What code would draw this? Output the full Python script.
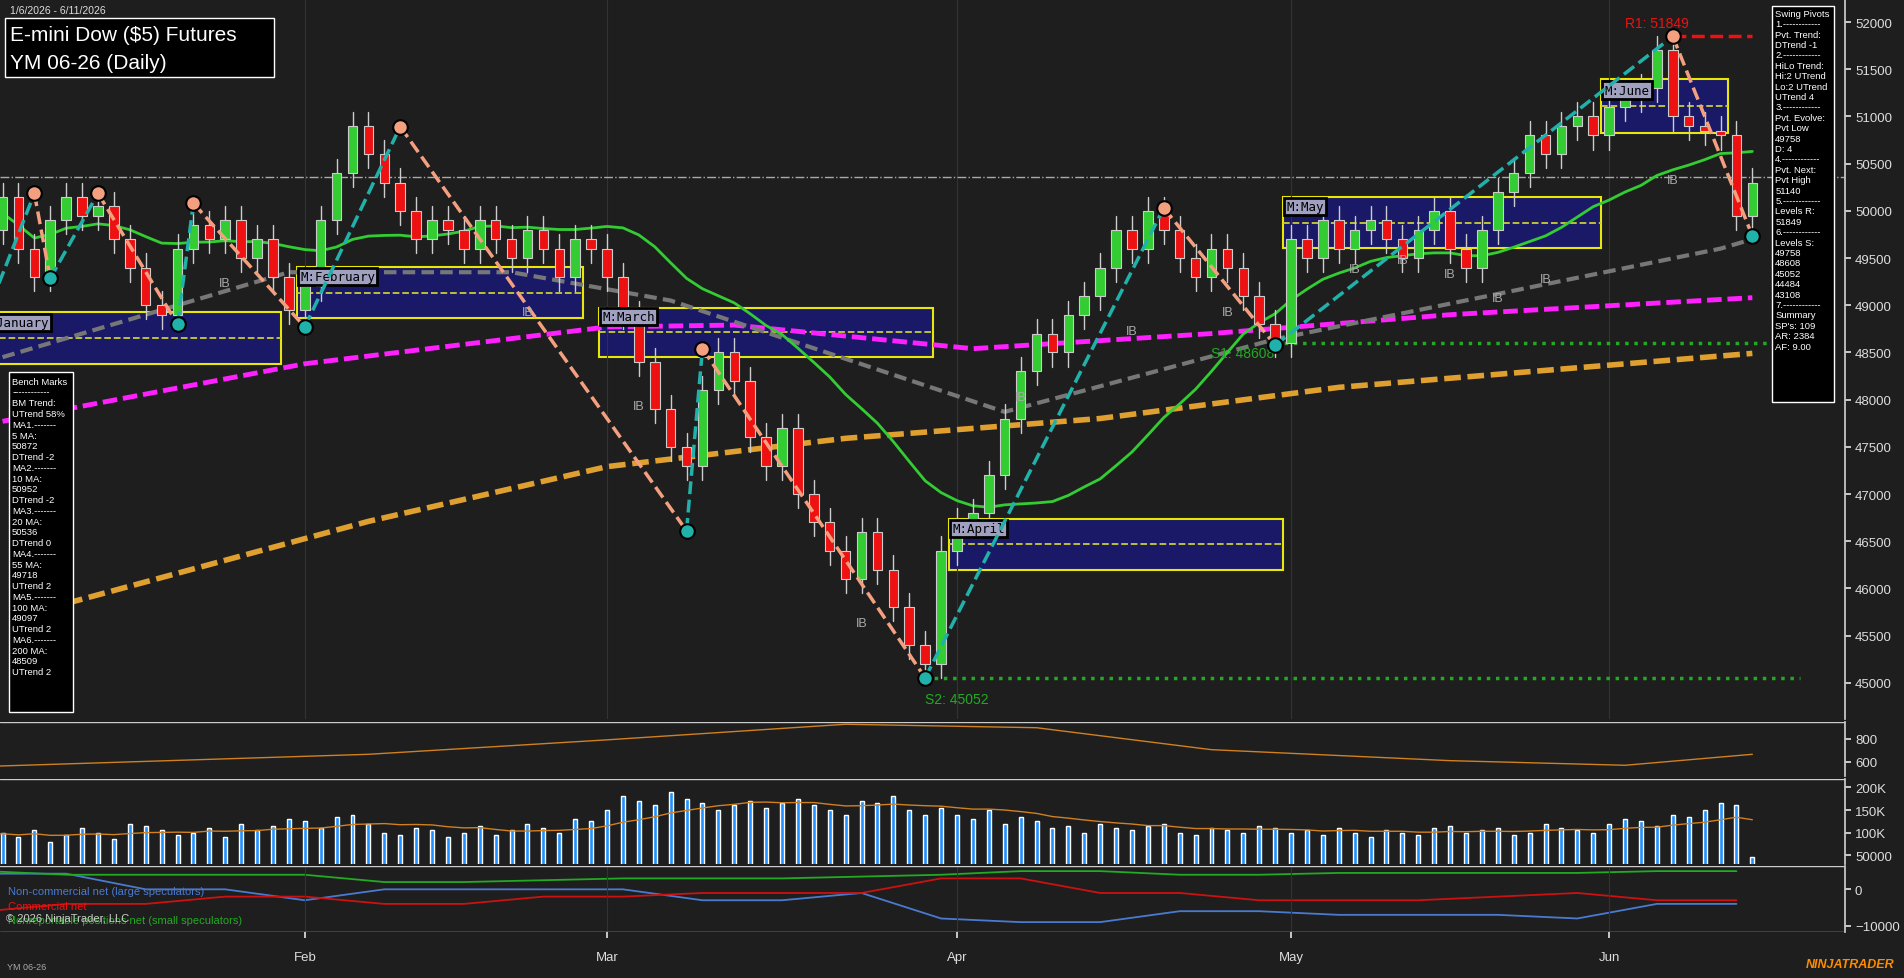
import numpy as np, pandas as pd, matplotlib
matplotlib.use("Agg")
import matplotlib.pyplot as plt, seaborn as sns
from matplotlib.patches import Rectangle

sns.set_theme(style="dark")
plt.rcParams['font.family'] = ['Liberation Sans', 'DejaVu Sans']

month_names = ["Feb", "Mar", "Apr", "May", "Jun"]
closes_jan = [49800,50150,49600,49300,49900,50150,49950,50050,49700,49400,49000,48900,49600,49850,49700,49900,49500,49700,49300,48950]
closes_feb = [49200,49900,50400,50900,50600,50300,50000,49700,49900,49800,49600,49900,49700,49500,49800,49600,49300,49700,49600]
closes_mar = [49300,48900,48400,47900,47500,47300,48100,48500,48200,47600,47300,47700,47000,46700,46400,46100,46600,46200,45800,45400,45200,46400]
closes_apr = [46700,46800,47200,47800,48300,48700,48500,48900,49100,49400,49800,49600,50000,49800,49500,49300,49600,49400,49100,48800,48600]
closes_may = [49700,49500,49900,49600,49800,49900,49700,49500,49800,50000,49600,49400,49800,50200,50400,50800,50600,50900,51000,50800]
closes_jun = [51100,51200,51300,51700,51000,50900,50850,50800,49950,50300]
vol_jan = [95,100,90,105,80,95,110,100,85,120,115,105,95,100,110,90,120,105,115,130]
vol_feb = [125,110,135,140,120,100,95,110,105,90,100,115,95,105,120,110,100,130,125]
vol_mar = [150,180,170,160,190,175,165,150,160,170,155,165,175,160,150,140,170,165,180,150,140,155]
vol_apr = [140,130,150,120,135,125,110,115,100,120,110,105,115,120,100,95,110,105,100,115,110]
vol_may = [100,105,95,110,100,90,105,100,95,110,115,100,105,110,95,100,120,110,105,100]
vol_jun = [120,130,125,115,140,135,150,165,160,45]
ma55_idx = [1, 19, 33, 43, 64, 81, 109, 111]
ma55_val = [48450, 49350, 49350, 49050, 47870, 48640, 49600, 49700]
ma100_idx = [1, 20, 39, 47, 62, 77, 92, 111]
ma100_val = [47770, 48380, 48770, 48790, 48540, 48700, 48900, 49080]
ma200_idx = [5, 24, 39, 54, 70, 85, 111]
ma200_val = [45840, 46710, 47290, 47590, 47800, 48130, 48490]
atr_idx = [0, 24, 39, 54, 66, 77, 92, 103, 111]
atr_val = [560, 665, 790, 925, 895, 705, 610, 570, 665]
cot_blue = [4300,4300,0,0,-3000,0,0,0,0,-3000,-3000,-1000,-8000,-9000,-9000,-6000,-6000,-7000,-7000,-7000,-8000,-4000,-4000]
cot_red = [-6000,-4000,-4000,-2000,-2000,-4000,-4000,-2000,-2000,-1000,-1000,-1000,3000,3000,-1000,-1000,-3000,-3000,-3000,-2000,-1000,-3000,-3000]
cot_green = [5000,4000,4000,4000,4000,2000,2000,2500,3000,3000,3000,3500,4000,5000,5000,4000,4000,4500,4500,4500,4500,5000,5000]
pivot_idx = [0, 3, 4, 7, 12, 13, 20, 26, 44, 45, 59, 74, 81, 106, 111]
pivot_val = [48900, 50185, 49285, 50185, 48800, 50080, 48770, 50893, 46610, 48540, 45052, 50030, 48577, 51849, 49735]
months = ["M:January", "M:February", "M:March", "M:April", "M:May", "M:June"]
box_lo = [48380, 48860, 48450, 46195, 49606, 50830]
box_hi = [48925, 49410, 48975, 46735, 50147, 51395]
box_start = [0, 20, 39, 61, 82, 102]
box_end = [18, 37, 59, 81, 101, 109]
ib_idx = [15, 34, 41, 55, 65, 72, 78, 86, 89, 92, 95, 98, 106]
ib_val = [49200, 48900, 47900, 45600, 48000, 48700, 48900, 49350, 49450, 49300, 49050, 49250, 50300]

closes = closes_jan + closes_feb + closes_mar + closes_apr + closes_may + closes_jun
vols = np.array(vol_jan + vol_feb + vol_mar + vol_apr + vol_may + vol_jun) * 1000
n = len(closes)
idx = np.arange(n)
opens = [closes[0] - 200] + closes[:-1]
df = pd.DataFrame({"i": idx, "o": opens, "c": closes, "v": vols})
df["ma20"] = df["c"].rolling(20, min_periods=1).mean()
month_start = [20, 39, 61, 82, 102]

W, H = 1568, 806
BG = "#1e1e1e"
XR = 1519
fig = plt.figure(figsize=(19.04, 9.79), dpi=100, facecolor=BG)
def ax_at(x0, y0, x1, y1):
    a = fig.add_axes([x0/W, 1-y1/H, (x1-x0)/W, (y1-y0)/H], facecolor=BG)
    a.set_xlim(0.84, (XR + 11) / 13.1)
    for s in a.spines.values(): s.set_visible(False)
    a.spines["right"].set_visible(True); a.spines["right"].set_color("#cccccc")
    a.yaxis.tick_right()
    a.tick_params(colors="#dddddd", labelsize=9.5, length=4, direction="out", right=True, left=False, bottom=False, labelbottom=False)
    a.grid(False)
    return a

ax = ax_at(0, 0, XR, 593)
ax.set_ylim(44613, 52245)
ax.set_yticks(range(45000, 52001, 500))
for m in month_start: ax.axvline(m, color="#333333", lw=0.8)
ax.axhline(50360, color="#aaaaaa", lw=1, ls="-.")
for nm, lo, hi, s, e in zip(months, box_lo, box_hi, box_start, box_end):
    ax.add_patch(Rectangle((s-0.5, lo), e-s+1, hi-lo, facecolor="#191970", edgecolor="yellow", lw=1.5, alpha=0.9, zorder=1))
    ax.plot([s-0.5, e+0.5], [(lo+hi)/2]*2, color="#cccc33", ls="--", lw=1.3, zorder=1)
    ax.text(s-0.3, (lo+hi)/2+130, nm, fontsize=9, family="DejaVu Sans Mono", color="black", zorder=6,
            bbox=dict(facecolor="#a0a0c0", edgecolor="black", pad=1.5, lw=2))
ax.plot(ma200_idx, ma200_val, color="#e0a030", lw=4, ls=(0, (3, 1.2)), zorder=2)
ax.plot(ma100_idx, ma100_val, color="#ff20ff", lw=3.5, ls=(0, (3, 1.2)), zorder=2)
ax.plot(ma55_idx, ma55_val, color="#777777", lw=3, ls=(0, (3, 1.5)), zorder=2)
sns.lineplot(data=df, x="i", y="ma20", ax=ax, color="#33cc33", lw=2, zorder=3)
ax.set_xlabel(""); ax.set_ylabel("")
for o, c, i in zip(opens, closes, idx):
    col = "#33cc33" if c >= o else "#ee1111"
    lo, hi = min(o, c), max(o, c)
    ax.plot([i, i], [lo-150, hi+150], color="#cccccc", lw=1, zorder=4)
    ax.add_patch(Rectangle((i-0.3, lo), 0.6, max(hi-lo, 25), facecolor=col, edgecolor="#cccccc", lw=0.8, zorder=5))
for k in range(len(pivot_idx)-1):
    up = pivot_val[k+1] > pivot_val[k]
    ax.plot(pivot_idx[k:k+2], pivot_val[k:k+2], color="#20b2aa" if up else "#f4a080", lw=2.5, ls="--", zorder=6)
for k in range(1, len(pivot_idx)):
    hi = pivot_val[k] > pivot_val[k-1]
    ax.scatter(pivot_idx[k], pivot_val[k], s=110, color="#f4a080" if hi else "#20b2aa", edgecolor="black", lw=1.5, zorder=7)
for i, v in zip(ib_idx, ib_val):
    ax.text(i, v, "IB", color="#aaaaaa", fontsize=9, ha="center", zorder=6)
ax.plot([59, 114], [45052]*2, color="#22aa22", ls=":", lw=2.5)
ax.plot([81, 114], [48600]*2, color="#22aa22", ls=":", lw=2.5)
ax.plot([106, 111], [51849]*2, color="#ee1111", ls="--", lw=2.5)
ax.text(59, 44900, "S2: 45052", color="#22aa22", fontsize=10, va="top")
ax.text(77, 48450, "S1: 48608", color="#22aa22", fontsize=10)
ax.text(103, 51950, "R1: 51849", color="#ee1111", fontsize=10)

fig.text(8/W, 1-9/H, "1/6/2026 - 6/11/2026", color="#dddddd", fontsize=7.5, va="center")
fig.patches.append(Rectangle((4/W, 1-64/H), 222/W, 48/H, transform=fig.transFigure, facecolor="black", zorder=0))
fig.text(8/W, 1-29/H, "E-mini Dow ($5) Futures", color="white", fontsize=15, va="center", zorder=5)
fig.text(8/W, 1-52/H, "YM 06-26 (Daily)", color="white", fontsize=15, va="center", zorder=5)
bm = "Bench Marks\n------------\nBM Trend:\nUTrend 58%\nMA1.-------\n5 MA:\n50872\nDTrend -2\nMA2.-------\n10 MA:\n50952\nDTrend -2\nMA3.-------\n20 MA:\n50536\nDTrend 0\nMA4.-------\n55 MA:\n49718\nUTrend 2\nMA5.-------\n100 MA:\n49097\nUTrend 2\nMA6.-------\n200 MA:\n48509\nUTrend 2"
fig.patches.append(Rectangle((7/W, 1-587/H), 53/W, 280/H, transform=fig.transFigure, facecolor="black", zorder=4))
fig.text(10/W, 1-311/H, bm, color="white", fontsize=6.8, va="top", linespacing=1.25, zorder=5)
sp = "Swing Pivots\n1.------------\nPvt. Trend:\nDTrend -1\n2.------------\nHiLo Trend:\nHi:2 UTrend\nLo:2 UTrend\nUTrend 4\n3.------------\nPvt. Evolve:\nPvt Low\n49758\nD: 4\n4.------------\nPvt. Next:\nPvt High\n51140\n5.------------\nLevels R:\n51849\n6.------------\nLevels S:\n49758\n48608\n45052\n44484\n43108\n7.------------\nSummary\nSP's: 109\nAR: 2384\nAF: 9.00"
fig.patches.append(Rectangle((1459/W, 1-332/H), 51/W, 326/H, transform=fig.transFigure, facecolor="black", zorder=4))
fig.text(1462/W, 1-8/H, sp, color="white", fontsize=6.8, va="top", linespacing=1.2, zorder=5)

a2 = ax_at(0, 595, XR, 640)
a2.set_ylim(474, 947); a2.set_yticks([600, 800])
a2.plot(atr_idx, atr_val, color="#d08020", lw=1)
a3 = ax_at(0, 642, XR, 712)
a3.set_ylim(31000, 219000); a3.set_yticks([50000, 100000, 150000, 200000])
a3.set_yticklabels(["50000", "100K", "150K", "200K"])
a3.bar(idx, vols, width=0.25, color="#1e90ff")
a3.plot(idx, pd.Series(vols).rolling(10, min_periods=1).mean(), color="#d08020", lw=1)
a4 = ax_at(0, 714, XR, 768)
a4.set_ylim(-11666, 6333); a4.set_yticks([-10000, 0])
wk = np.arange(len(cot_blue)) * 5
a4.plot(wk, cot_blue, color="#4a7ad0", lw=1.3)
a4.plot(wk, cot_red, color="#cc1111", lw=1.3)
a4.plot(wk, cot_green, color="#22aa22", lw=1.3)
for m in month_start: a4.axvline(m, color="#333333", lw=0.8)
a4.tick_params(bottom=True, labelbottom=True)
a4.set_xticks(month_start); a4.set_xticklabels(month_names, color="#dddddd", fontsize=9.5)
a4.tick_params(axis="x", pad=10)
for a in (a2, a3, a4):
    a.axhline(a.get_ylim()[1], color="#cccccc", lw=1)
a4.axhline(a4.get_ylim()[0], color="#cccccc", lw=1)
fig.text(7/W, 1-737/H, "Non-commercial net (large speculators)", color="#4a7ad0", fontsize=8)
fig.text(7/W, 1-749/H, "Commercial net", color="#ee1111", fontsize=8)
fig.text(7/W, 1-761/H, "Nonreportable positions net (small speculators)", color="#22aa22", fontsize=8)
fig.text(5/W, 1-759/H, "© 2026 NinjaTrader, LLC", color="#cccccc", fontsize=8)
fig.text(6/W, 1-799/H, "YM 06-26", color="#aaaaaa", fontsize=6.5)
fig.text(1560/W, 1-797/H, "NINJATRADER", color="#ff8c00", fontsize=9, ha="right", weight="bold", style="italic")
fig.savefig("out.png", dpi=100, facecolor=BG)
